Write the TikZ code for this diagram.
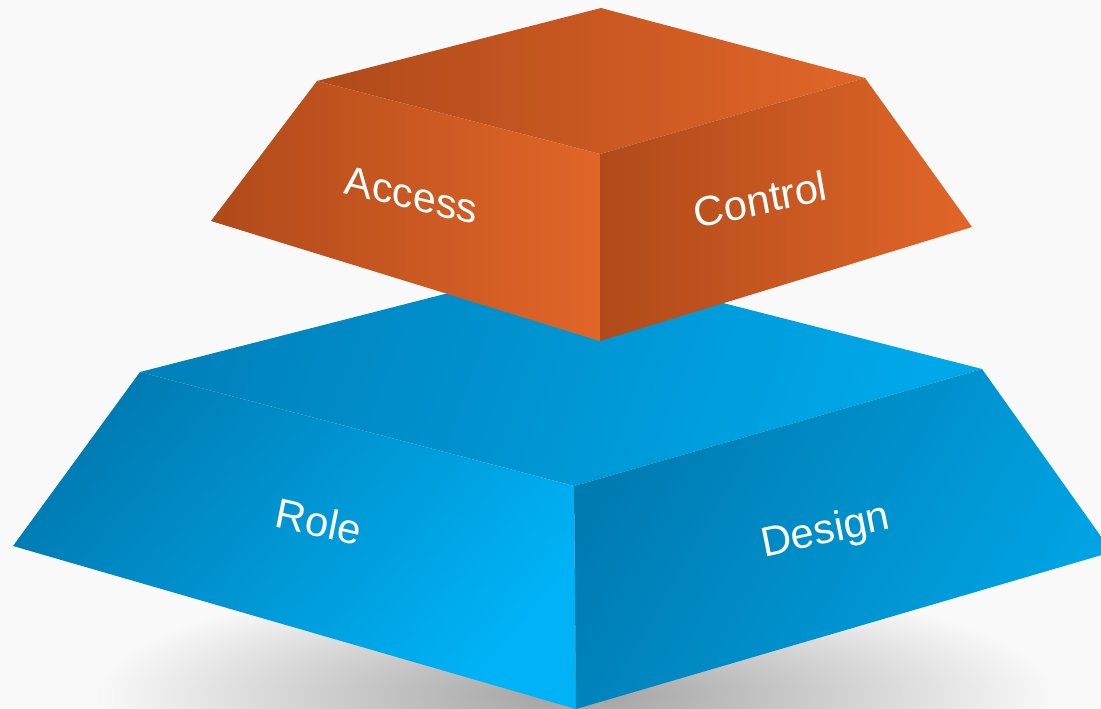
\documentclass[tikz,border=0pt]{standalone}
\usepackage{fontspec}
\setmainfont{Liberation Sans}
\definecolor{bg}{HTML}{F9F9F9}
\definecolor{orDark}{HTML}{B04A1A}
\definecolor{orLight}{HTML}{E16628}
\definecolor{blDark}{HTML}{007BB2}
\definecolor{blLight}{HTML}{00B3F6}
\definecolor{blTopL}{HTML}{0083BD}
\definecolor{blTopR}{HTML}{00A8E9}
\definecolor{blRight}{HTML}{00A5E5}
\definecolor{shadowc}{HTML}{A0A0A0}
\tikzset{
  facelabel/.style={text=white, font=\fontsize{41}{41}\selectfont, inner sep=0pt, anchor=base},
}
\begin{document}
\begin{tikzpicture}[x=1pt,y=-1pt]
\useasboundingbox (0,0) rectangle (1101,709);
\fill[bg] (0,0) rectangle (1101,709);
% shadow
\shade[inner color=shadowc, outer color=bg] (575,695) ellipse [x radius=480, y radius=120];
% blue frustum
\coordinate (bTL) at (140,372);
\coordinate (bBack) at (566,263);
\coordinate (bTR) at (982,369);
\coordinate (bTF) at (574,486);
\coordinate (bBL) at (13,546);
\coordinate (bBF) at (576,709);
\coordinate (bBR) at (1112,552);
\shade[left color=blTopL, right color=blTopR, shading angle=70] (bTL) -- (bBack) -- (bTR) -- (bTF) -- cycle;
\shade[left color=blDark, right color=blLight, shading angle=50] (bTL) -- (bTF) -- (bBF) -- (bBL) -- cycle;
\shade[left color=blDark, right color=blRight, shading angle=60] (bTF) -- (bTR) -- (bBR) -- (bBF) -- cycle;
% orange frustum
\coordinate (oTL) at (317,81);
\coordinate (oBack) at (601,8);
\coordinate (oTR) at (865,78);
\coordinate (oTF) at (600,154);
\coordinate (oBL) at (211,221);
\coordinate (oBF) at (600,341);
\coordinate (oBR) at (972,227);
\shade[left color=orDark, middle color=orLight, right color=orLight] (oTL) -- (oBack) -- (oTR) -- (oTF) -- cycle;
\shade[left color=orDark, middle color=orLight, right color=orLight] (oTL) -- (oTF) -- (oBF) -- (oBL) -- cycle;
\shade[left color=orDark, middle color=orLight, right color=orLight] (oTF) -- (oTR) -- (oBR) -- (oBF) -- cycle;
% labels
\node[facelabel, cm={1,-0.24,0.08,1,(0,0)}] (access) at (410,209) {Access};
\node[facelabel, cm={1,0.22,-0.18,1,(0,0)}] (control) at (763,214) {Control};
\node[facelabel, cm={1,-0.23,0.2,1,(0,0)}] (role) at (316,536) {Role};
\node[facelabel, cm={1,0.22,-0.2,1,(0,0)}] (design) at (828,543) {Design};
\end{tikzpicture}
\end{document}
